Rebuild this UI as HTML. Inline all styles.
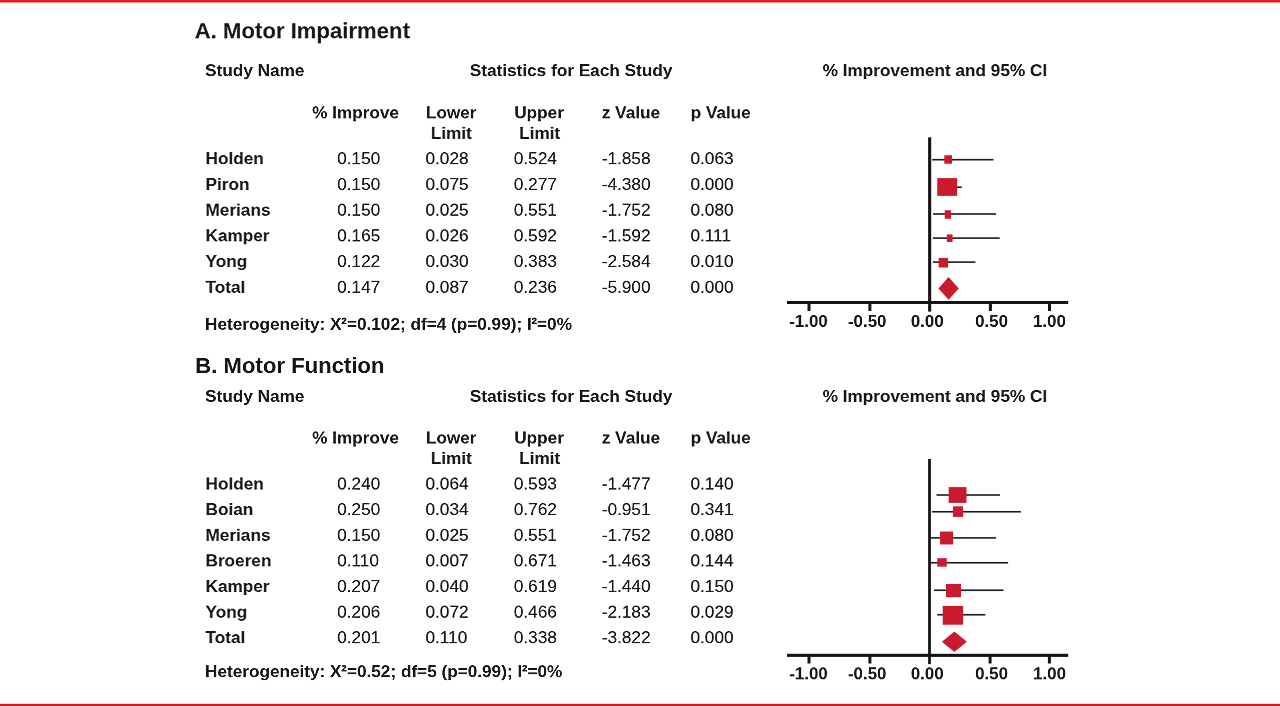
<!DOCTYPE html>
<html><head><meta charset="utf-8"><title>Forest plot</title>
<style>
html,body{margin:0;padding:0;background:#fff;}
body{width:1280px;height:706px;position:relative;overflow:hidden;font-family:"Liberation Sans",sans-serif;font-size:17.2px;color:#161415;}
.g{position:absolute;left:0;top:0;width:1280px;height:706px;}
.t{position:absolute;line-height:1;white-space:nowrap;color:#141213;-webkit-text-stroke:0.06px #141213;}
.b{font-weight:bold;-webkit-text-stroke:0;}
.sup{font-size:9.2px;position:relative;top:-5.8px;line-height:0;letter-spacing:0.2px;-webkit-text-stroke:0.3px #141213;}
.bar{position:absolute;left:0;width:1280px;background:#e41b23;}
svg.p{position:absolute;left:0;top:0;}
</style></head><body>
<svg width="0" height="0" style="position:absolute"><defs>
<filter id="f0" x="0" y="0" width="100%" height="100%" color-interpolation-filters="sRGB"><feConvolveMatrix order="4 4" kernelMatrix="0.0032 -0.0285 -0.0533 0.0054 -0.0320 0.2835 0.5293 -0.0533 -0.0171 0.1518 0.2835 -0.0285 0.0019 -0.0171 -0.0320 0.0032" divisor="1" edgeMode="none" preserveAlpha="false"/><feConvolveMatrix order="3 3" kernelMatrix="0 -0.25 0 -0.25 2.0 -0.25 0 -0.25 0" divisor="1" edgeMode="none" preserveAlpha="false"/></filter>
<filter id="f1" x="0" y="0" width="100%" height="100%" color-interpolation-filters="sRGB"><feConvolveMatrix order="4 4" kernelMatrix="0.0034 -0.0678 -0.0064 0.0005 -0.0415 0.8359 0.0788 -0.0059 -0.0108 0.2184 0.0206 -0.0015 0.0011 -0.0226 -0.0021 0.0002" divisor="1" edgeMode="none" preserveAlpha="false"/><feConvolveMatrix order="3 3" kernelMatrix="0 -0.25 0 -0.25 2.0 -0.25 0 -0.25 0" divisor="1" edgeMode="none" preserveAlpha="false"/></filter>
<filter id="f2" x="0" y="0" width="100%" height="100%" color-interpolation-filters="sRGB"><feConvolveMatrix order="4 4" kernelMatrix="0.0016 -0.0159 -0.0610 0.0049 -0.0203 0.1965 0.7520 -0.0610 -0.0053 0.0513 0.1965 -0.0159 0.0005 -0.0053 -0.0203 0.0016" divisor="1" edgeMode="none" preserveAlpha="false"/><feConvolveMatrix order="3 3" kernelMatrix="0 -0.25 0 -0.25 2.0 -0.25 0 -0.25 0" divisor="1" edgeMode="none" preserveAlpha="false"/></filter>
<filter id="f3" x="0" y="0" width="100%" height="100%" color-interpolation-filters="sRGB"><feConvolveMatrix order="4 4" kernelMatrix="0.0031 -0.0274 -0.0512 0.0051 -0.0381 0.3379 0.6309 -0.0635 -0.0100 0.0883 0.1648 -0.0166 0.0010 -0.0091 -0.0171 0.0017" divisor="1" edgeMode="none" preserveAlpha="false"/><feConvolveMatrix order="3 3" kernelMatrix="0 -0.25 0 -0.25 2.0 -0.25 0 -0.25 0" divisor="1" edgeMode="none" preserveAlpha="false"/></filter>
<filter id="f4" x="0" y="0" width="100%" height="100%" color-interpolation-filters="sRGB"><feConvolveMatrix order="4 4" kernelMatrix="0.0051 -0.0635 -0.0166 0.0017 -0.0512 0.6309 0.1648 -0.0171 -0.0274 0.3379 0.0883 -0.0091 0.0031 -0.0381 -0.0100 0.0010" divisor="1" edgeMode="none" preserveAlpha="false"/><feConvolveMatrix order="3 3" kernelMatrix="0 -0.25 0 -0.25 2.0 -0.25 0 -0.25 0" divisor="1" edgeMode="none" preserveAlpha="false"/></filter>
<filter id="f5" x="0" y="0" width="100%" height="100%" color-interpolation-filters="sRGB"><feConvolveMatrix order="4 4" kernelMatrix="0.0017 -0.0171 -0.0091 0.0010 -0.0166 0.1648 0.0883 -0.0100 -0.0635 0.6309 0.3379 -0.0381 0.0051 -0.0512 -0.0274 0.0031" divisor="1" edgeMode="none" preserveAlpha="false"/><feConvolveMatrix order="3 3" kernelMatrix="0 -0.25 0 -0.25 2.0 -0.25 0 -0.25 0" divisor="1" edgeMode="none" preserveAlpha="false"/></filter>
<filter id="f6" x="0" y="0" width="100%" height="100%" color-interpolation-filters="sRGB"><feConvolveMatrix order="4 4" kernelMatrix="0.0035 -0.0706 -0.0067 0.0005 -0.0348 0.7013 0.0661 -0.0050 -0.0186 0.3756 0.0354 -0.0027 0.0021 -0.0424 -0.0040 0.0003" divisor="1" edgeMode="none" preserveAlpha="false"/><feConvolveMatrix order="3 3" kernelMatrix="0 -0.25 0 -0.25 2.0 -0.25 0 -0.25 0" divisor="1" edgeMode="none" preserveAlpha="false"/></filter>
<filter id="f7" x="0" y="0" width="100%" height="100%" color-interpolation-filters="sRGB"><feConvolveMatrix order="4 4" kernelMatrix="0.0010 -0.0091 -0.0171 0.0017 -0.0100 0.0883 0.1648 -0.0166 -0.0381 0.3379 0.6309 -0.0635 0.0031 -0.0274 -0.0512 0.0051" divisor="1" edgeMode="none" preserveAlpha="false"/><feConvolveMatrix order="3 3" kernelMatrix="0 -0.25 0 -0.25 2.0 -0.25 0 -0.25 0" divisor="1" edgeMode="none" preserveAlpha="false"/></filter>
<filter id="f8" x="0" y="0" width="100%" height="100%" color-interpolation-filters="sRGB"><feConvolveMatrix order="4 4" kernelMatrix="0.0017 -0.0166 -0.0635 0.0051 -0.0171 0.1648 0.6309 -0.0512 -0.0091 0.0883 0.3379 -0.0274 0.0010 -0.0100 -0.0381 0.0031" divisor="1" edgeMode="none" preserveAlpha="false"/><feConvolveMatrix order="3 3" kernelMatrix="0 -0.25 0 -0.25 2.0 -0.25 0 -0.25 0" divisor="1" edgeMode="none" preserveAlpha="false"/></filter>
<filter id="f9" x="0" y="0" width="100%" height="100%" color-interpolation-filters="sRGB"><feConvolveMatrix order="4 4" kernelMatrix="0.0044 -0.0396 -0.0396 0.0044 -0.0542 0.4878 0.4878 -0.0542 -0.0142 0.1274 0.1274 -0.0142 0.0015 -0.0132 -0.0132 0.0015" divisor="1" edgeMode="none" preserveAlpha="false"/><feConvolveMatrix order="3 3" kernelMatrix="0 -0.25 0 -0.25 2.0 -0.25 0 -0.25 0" divisor="1" edgeMode="none" preserveAlpha="false"/></filter>
<filter id="f10" x="0" y="0" width="100%" height="100%" color-interpolation-filters="sRGB"><feConvolveMatrix order="4 4" kernelMatrix="0.0049 -0.0610 -0.0159 0.0016 -0.0610 0.7520 0.1965 -0.0203 -0.0159 0.1965 0.0513 -0.0053 0.0016 -0.0203 -0.0053 0.0005" divisor="1" edgeMode="none" preserveAlpha="false"/><feConvolveMatrix order="3 3" kernelMatrix="0 -0.25 0 -0.25 2.0 -0.25 0 -0.25 0" divisor="1" edgeMode="none" preserveAlpha="false"/></filter>
<filter id="f11" x="0" y="0" width="100%" height="100%" color-interpolation-filters="sRGB"><feConvolveMatrix order="4 4" kernelMatrix="0 0 0 0 -0.0625 0.5625 0.5625 -0.0625 0 0 0 0 0 0 0 0" divisor="1" edgeMode="none" preserveAlpha="false"/><feConvolveMatrix order="3 3" kernelMatrix="0 -0.25 0 -0.25 2.0 -0.25 0 -0.25 0" divisor="1" edgeMode="none" preserveAlpha="false"/></filter>
<filter id="f12" x="0" y="0" width="100%" height="100%" color-interpolation-filters="sRGB"><feConvolveMatrix order="4 4" kernelMatrix="0 0 0 0 -0.0703 0.8672 0.2266 -0.0234 0 0 0 0 0 0 0 0" divisor="1" edgeMode="none" preserveAlpha="false"/><feConvolveMatrix order="3 3" kernelMatrix="0 -0.25 0 -0.25 2.0 -0.25 0 -0.25 0" divisor="1" edgeMode="none" preserveAlpha="false"/></filter>
<filter id="f13" x="0" y="0" width="100%" height="100%" color-interpolation-filters="sRGB"><feConvolveMatrix order="4 4" kernelMatrix="0 0 0 0 -0.0234 0.2266 0.8672 -0.0703 0 0 0 0 0 0 0 0" divisor="1" edgeMode="none" preserveAlpha="false"/><feConvolveMatrix order="3 3" kernelMatrix="0 -0.25 0 -0.25 2.0 -0.25 0 -0.25 0" divisor="1" edgeMode="none" preserveAlpha="false"/></filter>
<filter id="f14" x="0" y="0" width="100%" height="100%" color-interpolation-filters="sRGB"><feConvolveMatrix order="4 4" kernelMatrix="0.0027 -0.0247 -0.0247 0.0027 -0.0244 0.2192 0.2192 -0.0244 -0.0455 0.4092 0.4092 -0.0455 0.0046 -0.0412 -0.0412 0.0046" divisor="1" edgeMode="none" preserveAlpha="false"/><feConvolveMatrix order="3 3" kernelMatrix="0 -0.25 0 -0.25 2.0 -0.25 0 -0.25 0" divisor="1" edgeMode="none" preserveAlpha="false"/></filter>
<filter id="f15" x="0" y="0" width="100%" height="100%" color-interpolation-filters="sRGB"><feConvolveMatrix order="4 4" kernelMatrix="0.0031 -0.0381 -0.0100 0.0010 -0.0274 0.3379 0.0883 -0.0091 -0.0512 0.6309 0.1648 -0.0171 0.0051 -0.0635 -0.0166 0.0017" divisor="1" edgeMode="none" preserveAlpha="false"/><feConvolveMatrix order="3 3" kernelMatrix="0 -0.25 0 -0.25 2.0 -0.25 0 -0.25 0" divisor="1" edgeMode="none" preserveAlpha="false"/></filter>
<filter id="f16" x="0" y="0" width="100%" height="100%" color-interpolation-filters="sRGB"><feConvolveMatrix order="4 4" kernelMatrix="0.0010 -0.0100 -0.0381 0.0031 -0.0091 0.0883 0.3379 -0.0274 -0.0171 0.1648 0.6309 -0.0512 0.0017 -0.0166 -0.0635 0.0051" divisor="1" edgeMode="none" preserveAlpha="false"/><feConvolveMatrix order="3 3" kernelMatrix="0 -0.25 0 -0.25 2.0 -0.25 0 -0.25 0" divisor="1" edgeMode="none" preserveAlpha="false"/></filter>
<filter id="f17" x="0" y="0" width="100%" height="100%" color-interpolation-filters="sRGB"><feConvolveMatrix order="4 4" kernelMatrix="0.0046 -0.0412 -0.0412 0.0046 -0.0455 0.4092 0.4092 -0.0455 -0.0244 0.2192 0.2192 -0.0244 0.0027 -0.0247 -0.0247 0.0027" divisor="1" edgeMode="none" preserveAlpha="false"/><feConvolveMatrix order="3 3" kernelMatrix="0 -0.25 0 -0.25 2.0 -0.25 0 -0.25 0" divisor="1" edgeMode="none" preserveAlpha="false"/></filter>
<filter id="f18" x="0" y="0" width="100%" height="100%" color-interpolation-filters="sRGB"><feConvolveMatrix order="4 4" kernelMatrix="0.0015 -0.0132 -0.0132 0.0015 -0.0142 0.1274 0.1274 -0.0142 -0.0542 0.4878 0.4878 -0.0542 0.0044 -0.0396 -0.0396 0.0044" divisor="1" edgeMode="none" preserveAlpha="false"/><feConvolveMatrix order="3 3" kernelMatrix="0 -0.25 0 -0.25 2.0 -0.25 0 -0.25 0" divisor="1" edgeMode="none" preserveAlpha="false"/></filter>
<filter id="f19" x="0" y="0" width="100%" height="100%" color-interpolation-filters="sRGB"><feConvolveMatrix order="4 4" kernelMatrix="0.0016 -0.0203 -0.0053 0.0005 -0.0159 0.1965 0.0513 -0.0053 -0.0610 0.7520 0.1965 -0.0203 0.0049 -0.0610 -0.0159 0.0016" divisor="1" edgeMode="none" preserveAlpha="false"/><feConvolveMatrix order="3 3" kernelMatrix="0 -0.25 0 -0.25 2.0 -0.25 0 -0.25 0" divisor="1" edgeMode="none" preserveAlpha="false"/></filter>
<filter id="f20" x="0" y="0" width="100%" height="100%" color-interpolation-filters="sRGB"><feConvolveMatrix order="4 4" kernelMatrix="0.0005 -0.0053 -0.0203 0.0016 -0.0053 0.0513 0.1965 -0.0159 -0.0203 0.1965 0.7520 -0.0610 0.0016 -0.0159 -0.0610 0.0049" divisor="1" edgeMode="none" preserveAlpha="false"/><feConvolveMatrix order="3 3" kernelMatrix="0 -0.25 0 -0.25 2.0 -0.25 0 -0.25 0" divisor="1" edgeMode="none" preserveAlpha="false"/></filter>
<filter id="f21" x="0" y="0" width="100%" height="100%" color-interpolation-filters="sRGB"><feConvolveMatrix order="4 4" kernelMatrix="0 -0.0234 0 0 0 0.2266 0 0 0 0.8672 0 0 0 -0.0703 0 0" divisor="1" edgeMode="none" preserveAlpha="false"/><feConvolveMatrix order="3 3" kernelMatrix="0 -0.25 0 -0.25 2.0 -0.25 0 -0.25 0" divisor="1" edgeMode="none" preserveAlpha="false"/></filter>
<filter id="f22" x="0" y="0" width="100%" height="100%" color-interpolation-filters="sRGB"><feConvolveMatrix order="4 4" kernelMatrix="0.0034 -0.0415 -0.0108 0.0011 -0.0678 0.8359 0.2184 -0.0226 -0.0064 0.0788 0.0206 -0.0021 0.0005 -0.0059 -0.0015 0.0002" divisor="1" edgeMode="none" preserveAlpha="false"/><feConvolveMatrix order="3 3" kernelMatrix="0 -0.25 0 -0.25 2.0 -0.25 0 -0.25 0" divisor="1" edgeMode="none" preserveAlpha="false"/></filter>
<filter id="f23" x="0" y="0" width="100%" height="100%" color-interpolation-filters="sRGB"><feConvolveMatrix order="4 4" kernelMatrix="0.0003 -0.0066 -0.0006 0 -0.0043 0.0875 0.0082 -0.0006 -0.0461 0.9290 0.0875 -0.0066 0.0023 -0.0461 -0.0043 0.0003" divisor="1" edgeMode="none" preserveAlpha="false"/><feConvolveMatrix order="3 3" kernelMatrix="0 -0.25 0 -0.25 2.0 -0.25 0 -0.25 0" divisor="1" edgeMode="none" preserveAlpha="false"/></filter>
<filter id="f24" x="0" y="0" width="100%" height="100%" color-interpolation-filters="sRGB"><feConvolveMatrix order="4 4" kernelMatrix="0.0002 -0.0015 -0.0059 0.0005 -0.0021 0.0206 0.0788 -0.0064 -0.0226 0.2184 0.8359 -0.0678 0.0011 -0.0108 -0.0415 0.0034" divisor="1" edgeMode="none" preserveAlpha="false"/><feConvolveMatrix order="3 3" kernelMatrix="0 -0.25 0 -0.25 2.0 -0.25 0 -0.25 0" divisor="1" edgeMode="none" preserveAlpha="false"/></filter>
<filter id="f25" x="0" y="0" width="100%" height="100%" color-interpolation-filters="sRGB"><feConvolveMatrix order="4 4" kernelMatrix="0.0003 -0.0027 -0.0050 0.0005 -0.0040 0.0354 0.0661 -0.0067 -0.0424 0.3756 0.7013 -0.0706 0.0021 -0.0186 -0.0348 0.0035" divisor="1" edgeMode="none" preserveAlpha="false"/><feConvolveMatrix order="3 3" kernelMatrix="0 -0.25 0 -0.25 2.0 -0.25 0 -0.25 0" divisor="1" edgeMode="none" preserveAlpha="false"/></filter>
<filter id="f26" x="0" y="0" width="100%" height="100%" color-interpolation-filters="sRGB"><feConvolveMatrix order="4 4" kernelMatrix="0.0044 -0.0542 -0.0142 0.0015 -0.0396 0.4878 0.1274 -0.0132 -0.0396 0.4878 0.1274 -0.0132 0.0044 -0.0542 -0.0142 0.0015" divisor="1" edgeMode="none" preserveAlpha="false"/><feConvolveMatrix order="3 3" kernelMatrix="0 -0.25 0 -0.25 2.0 -0.25 0 -0.25 0" divisor="1" edgeMode="none" preserveAlpha="false"/></filter>
<filter id="f27" x="0" y="0" width="100%" height="100%" color-interpolation-filters="sRGB"><feConvolveMatrix order="4 4" kernelMatrix="0.0005 -0.0050 -0.0027 0.0003 -0.0067 0.0661 0.0354 -0.0040 -0.0706 0.7013 0.3756 -0.0424 0.0035 -0.0348 -0.0186 0.0021" divisor="1" edgeMode="none" preserveAlpha="false"/><feConvolveMatrix order="3 3" kernelMatrix="0 -0.25 0 -0.25 2.0 -0.25 0 -0.25 0" divisor="1" edgeMode="none" preserveAlpha="false"/></filter>
<filter id="f28" x="0" y="0" width="100%" height="100%" color-interpolation-filters="sRGB"><feConvolveMatrix order="4 4" kernelMatrix="0.0030 -0.0602 -0.0057 0.0004 -0.0269 0.5422 0.0511 -0.0038 -0.0269 0.5422 0.0511 -0.0038 0.0030 -0.0602 -0.0057 0.0004" divisor="1" edgeMode="none" preserveAlpha="false"/><feConvolveMatrix order="3 3" kernelMatrix="0 -0.25 0 -0.25 2.0 -0.25 0 -0.25 0" divisor="1" edgeMode="none" preserveAlpha="false"/></filter>
<filter id="f29" x="0" y="0" width="100%" height="100%" color-interpolation-filters="sRGB"><feConvolveMatrix order="4 4" kernelMatrix="0.0015 -0.0142 -0.0542 0.0044 -0.0132 0.1274 0.4878 -0.0396 -0.0132 0.1274 0.4878 -0.0396 0.0015 -0.0142 -0.0542 0.0044" divisor="1" edgeMode="none" preserveAlpha="false"/><feConvolveMatrix order="3 3" kernelMatrix="0 -0.25 0 -0.25 2.0 -0.25 0 -0.25 0" divisor="1" edgeMode="none" preserveAlpha="false"/></filter>
<filter id="f30" x="0" y="0" width="100%" height="100%" color-interpolation-filters="sRGB"><feConvolveMatrix order="4 4" kernelMatrix="0.0027 -0.0244 -0.0455 0.0046 -0.0247 0.2192 0.4092 -0.0412 -0.0247 0.2192 0.4092 -0.0412 0.0027 -0.0244 -0.0455 0.0046" divisor="1" edgeMode="none" preserveAlpha="false"/><feConvolveMatrix order="3 3" kernelMatrix="0 -0.25 0 -0.25 2.0 -0.25 0 -0.25 0" divisor="1" edgeMode="none" preserveAlpha="false"/></filter>
<filter id="f31" x="0" y="0" width="100%" height="100%" color-interpolation-filters="sRGB"><feConvolveMatrix order="4 4" kernelMatrix="0.0039 -0.0352 -0.0352 0.0039 -0.0352 0.3164 0.3164 -0.0352 -0.0352 0.3164 0.3164 -0.0352 0.0039 -0.0352 -0.0352 0.0039" divisor="1" edgeMode="none" preserveAlpha="false"/><feConvolveMatrix order="3 3" kernelMatrix="0 -0.25 0 -0.25 2.0 -0.25 0 -0.25 0" divisor="1" edgeMode="none" preserveAlpha="false"/></filter>
<filter id="f32" x="0" y="0" width="100%" height="100%" color-interpolation-filters="sRGB"><feConvolveMatrix order="4 4" kernelMatrix="0.0030 -0.0269 -0.0269 0.0030 -0.0602 0.5422 0.5422 -0.0602 -0.0057 0.0511 0.0511 -0.0057 0.0004 -0.0038 -0.0038 0.0004" divisor="1" edgeMode="none" preserveAlpha="false"/><feConvolveMatrix order="3 3" kernelMatrix="0 -0.25 0 -0.25 2.0 -0.25 0 -0.25 0" divisor="1" edgeMode="none" preserveAlpha="false"/></filter>
<filter id="f33" x="0" y="0" width="100%" height="100%" color-interpolation-filters="sRGB"><feConvolveMatrix order="4 4" kernelMatrix="0.0011 -0.0108 -0.0415 0.0034 -0.0226 0.2184 0.8359 -0.0678 -0.0021 0.0206 0.0788 -0.0064 0.0002 -0.0015 -0.0059 0.0005" divisor="1" edgeMode="none" preserveAlpha="false"/><feConvolveMatrix order="3 3" kernelMatrix="0 -0.25 0 -0.25 2.0 -0.25 0 -0.25 0" divisor="1" edgeMode="none" preserveAlpha="false"/></filter>
<filter id="f34" x="0" y="0" width="100%" height="100%" color-interpolation-filters="sRGB"><feConvolveMatrix order="4 4" kernelMatrix="0 -0.0703 0 0 0 0.8672 0 0 0 0.2266 0 0 0 -0.0234 0 0" divisor="1" edgeMode="none" preserveAlpha="false"/><feConvolveMatrix order="3 3" kernelMatrix="0 -0.25 0 -0.25 2.0 -0.25 0 -0.25 0" divisor="1" edgeMode="none" preserveAlpha="false"/></filter>
<filter id="f35" x="0" y="0" width="100%" height="100%" color-interpolation-filters="sRGB"><feConvolveMatrix order="4 4" kernelMatrix="0 -0.0068 0 0 0 0.0908 0 0 0 0.9639 0 0 0 -0.0479 0 0" divisor="1" edgeMode="none" preserveAlpha="false"/><feConvolveMatrix order="3 3" kernelMatrix="0 -0.25 0 -0.25 2.0 -0.25 0 -0.25 0" divisor="1" edgeMode="none" preserveAlpha="false"/></filter>
<filter id="f36" x="0" y="0" width="100%" height="100%" color-interpolation-filters="sRGB"><feConvolveMatrix order="4 4" kernelMatrix="0.0005 -0.0059 -0.0015 0.0002 -0.0064 0.0788 0.0206 -0.0021 -0.0678 0.8359 0.2184 -0.0226 0.0034 -0.0415 -0.0108 0.0011" divisor="1" edgeMode="none" preserveAlpha="false"/><feConvolveMatrix order="3 3" kernelMatrix="0 -0.25 0 -0.25 2.0 -0.25 0 -0.25 0" divisor="1" edgeMode="none" preserveAlpha="false"/></filter>
<filter id="f37" x="0" y="0" width="100%" height="100%" color-interpolation-filters="sRGB"><feConvolveMatrix order="4 4" kernelMatrix="0.0054 -0.0533 -0.0285 0.0032 -0.0533 0.5293 0.2835 -0.0320 -0.0285 0.2835 0.1518 -0.0171 0.0032 -0.0320 -0.0171 0.0019" divisor="1" edgeMode="none" preserveAlpha="false"/><feConvolveMatrix order="3 3" kernelMatrix="0 -0.25 0 -0.25 2.0 -0.25 0 -0.25 0" divisor="1" edgeMode="none" preserveAlpha="false"/></filter>
<filter id="f38" x="0" y="0" width="100%" height="100%" color-interpolation-filters="sRGB"><feConvolveMatrix order="4 4" kernelMatrix="0 -0.0732 0 0 0 0.7275 0 0 0 0.3896 0 0 0 -0.0439 0 0" divisor="1" edgeMode="none" preserveAlpha="false"/><feConvolveMatrix order="3 3" kernelMatrix="0 -0.25 0 -0.25 2.0 -0.25 0 -0.25 0" divisor="1" edgeMode="none" preserveAlpha="false"/></filter>
</defs></svg>
<div class="bar" style="top:0;height:1px;background:#ee1c2a"></div>
<div class="bar" style="top:1px;height:1px;background:#c5171f"></div>
<div class="bar" style="top:2px;height:1px;background:#ea9a93"></div>
<div class="bar" style="top:3px;height:1px;background:#fff9f3"></div>
<div class="bar" style="top:703px;height:1px;background:#f8d4d4"></div>
<div class="bar" style="top:704px;height:1px;background:#c41c24"></div>
<div class="bar" style="top:705px;height:1px;background:#e01a22"></div>
<svg class="p" width="1280" height="706" viewBox="0 0 1280 706">
<rect x="787" y="301" width="281.2" height="3.00" fill="#161415"/>
<rect x="928.1" y="137.3" width="3.10" height="174.30" fill="#161415"/>
<rect x="807.50" y="303.5" width="3" height="7.50" fill="#161415"/>
<rect x="868.40" y="303.5" width="3" height="7.50" fill="#161415"/>
<rect x="988.90" y="303.5" width="3" height="7.50" fill="#161415"/>
<rect x="1048.00" y="303.5" width="3" height="7.50" fill="#161415"/>
<rect x="932.2" y="158.90" width="61.20" height="1.6" fill="#1c1a1b"/>
<rect x="944.30" y="155.25" width="7.8" height="8.5" fill="#c91b2d"/>
<rect x="940.0" y="186.40" width="21.80" height="1.6" fill="#1c1a1b"/>
<rect x="937.25" y="178.10" width="19.9" height="17.8" fill="#c91b2d"/>
<rect x="933.1" y="213.20" width="62.90" height="1.6" fill="#1c1a1b"/>
<rect x="944.75" y="210.25" width="6.3" height="8.5" fill="#c91b2d"/>
<rect x="932.9" y="237.30" width="66.80" height="1.6" fill="#1c1a1b"/>
<rect x="946.85" y="234.40" width="5.7" height="7.6" fill="#c91b2d"/>
<rect x="932.9" y="261.30" width="42.50" height="1.6" fill="#1c1a1b"/>
<rect x="938.70" y="257.90" width="9.4" height="9.6" fill="#c91b2d"/>
<polygon points="938.40,288.4 948.60,277.09999999999997 958.80,288.4 948.60,299.7" fill="#c91b2d"/>
<rect x="787" y="653.8" width="281.2" height="3.10" fill="#161415"/>
<rect x="928.1" y="459" width="2.80" height="205.10" fill="#161415"/>
<rect x="807.50" y="656.4" width="3" height="7.10" fill="#161415"/>
<rect x="868.40" y="656.4" width="3" height="7.10" fill="#161415"/>
<rect x="988.60" y="656.4" width="3" height="7.10" fill="#161415"/>
<rect x="1047.90" y="656.4" width="3" height="7.10" fill="#161415"/>
<rect x="936.5" y="494.20" width="63.50" height="1.6" fill="#1c1a1b"/>
<rect x="948.70" y="487.10" width="17.8" height="15.8" fill="#c91b2d"/>
<rect x="932.1" y="510.95" width="88.80" height="1.6" fill="#1c1a1b"/>
<rect x="952.90" y="506.30" width="10.2" height="10.6" fill="#c91b2d"/>
<rect x="929.0" y="537.10" width="67.00" height="1.6" fill="#1c1a1b"/>
<rect x="940.05" y="531.55" width="13.1" height="12.9" fill="#c91b2d"/>
<rect x="929.0" y="561.95" width="79.10" height="1.6" fill="#1c1a1b"/>
<rect x="937.25" y="558.15" width="9.5" height="8.5" fill="#c91b2d"/>
<rect x="934.0" y="589.45" width="69.50" height="1.6" fill="#1c1a1b"/>
<rect x="946.00" y="583.98" width="15.0" height="13.25" fill="#c91b2d"/>
<rect x="937.25" y="613.95" width="48.00" height="1.6" fill="#1c1a1b"/>
<rect x="942.73" y="605.88" width="20.35" height="18.85" fill="#c91b2d"/>
<polygon points="941.90,641.75 954.40,631.6 966.90,641.75 954.40,651.9" fill="#c91b2d"/>
</svg>
<div class="g" style="filter:url(#f0)">
<div class="t b" style="top:20px;font-size:22.15px;left:194px;">A. Motor Impairment</div>
<div class="t b" style="top:104px;left:690px;">p Value</div>
</div>
<div class="g" style="filter:url(#f1)">
<div class="t b" style="top:62px;left:205px;">Study Name</div>
</div>
<div class="g" style="filter:url(#f2)">
<div class="t b" style="top:62px;left:469px;">Statistics for Each Study</div>
<div class="t" style="top:150px;left:513px;">0.524</div>
<div class="t" style="top:150px;left:601px;">-1.858</div>
<div class="t" style="top:629px;left:513px;">0.338</div>
<div class="t" style="top:629px;left:601px;">-3.822</div>
</div>
<div class="g" style="filter:url(#f3)">
<div class="t b" style="top:62px;left:822px;">% Improvement and 95% CI</div>
</div>
<div class="g" style="filter:url(#f4)">
<div class="t b" style="top:104px;left:312px;">% Improve</div>
<div class="t b" style="top:104px;left:351px;width:200px;text-align:center;">Lower</div>
<div class="t" style="top:227px;left:337px;">0.165</div>
<div class="t" style="top:552px;left:337px;">0.110</div>
<div class="t b" style="top:666px;font-size:16.85px;left:975px;">0.50</div>
<div class="t b" style="top:666px;font-size:16.85px;left:1033px;">1.00</div>
</div>
<div class="g" style="filter:url(#f5)">
<div class="t b" style="top:124px;left:351px;width:200px;text-align:center;">Limit</div>
</div>
<div class="g" style="filter:url(#f6)">
<div class="t b" style="top:104px;left:439px;width:200px;text-align:center;">Upper</div>
</div>
<div class="g" style="filter:url(#f7)">
<div class="t b" style="top:124px;left:439px;width:200px;text-align:center;">Limit</div>
</div>
<div class="g" style="filter:url(#f8)">
<div class="t b" style="top:104px;left:601px;">z Value</div>
<div class="t" style="top:227px;left:513px;">0.592</div>
<div class="t" style="top:227px;left:601px;">-1.592</div>
<div class="t" style="top:552px;left:513px;">0.671</div>
<div class="t" style="top:552px;left:601px;">-1.463</div>
<div class="t b" style="top:666px;font-size:16.85px;left:910px;">0.00</div>
</div>
<div class="g" style="filter:url(#f9)">
<div class="t b" style="top:150px;left:205px;">Holden</div>
<div class="t" style="top:150px;left:425px;">0.028</div>
<div class="t" style="top:150px;left:690px;">0.063</div>
<div class="t b" style="top:629px;left:205px;">Total</div>
<div class="t" style="top:629px;left:425px;">0.110</div>
<div class="t" style="top:629px;left:690px;">0.000</div>
</div>
<div class="g" style="filter:url(#f10)">
<div class="t" style="top:150px;left:337px;">0.150</div>
<div class="t" style="top:629px;left:337px;">0.201</div>
</div>
<div class="g" style="filter:url(#f11)">
<div class="t b" style="top:176px;left:205px;">Piron</div>
<div class="t" style="top:176px;left:425px;">0.075</div>
<div class="t" style="top:176px;left:690px;">0.000</div>
<div class="t b" style="top:253px;left:205px;">Yong</div>
<div class="t" style="top:253px;left:425px;">0.030</div>
<div class="t" style="top:253px;left:690px;">0.010</div>
<div class="t b" style="top:578px;left:205px;">Kamper</div>
<div class="t" style="top:578px;left:425px;">0.040</div>
<div class="t" style="top:578px;left:690px;">0.150</div>
</div>
<div class="g" style="filter:url(#f12)">
<div class="t" style="top:176px;left:337px;">0.150</div>
<div class="t" style="top:253px;left:337px;">0.122</div>
<div class="t" style="top:578px;left:337px;">0.207</div>
</div>
<div class="g" style="filter:url(#f13)">
<div class="t" style="top:176px;left:513px;">0.277</div>
<div class="t" style="top:176px;left:601px;">-4.380</div>
<div class="t" style="top:253px;left:513px;">0.383</div>
<div class="t" style="top:253px;left:601px;">-2.584</div>
<div class="t" style="top:578px;left:513px;">0.619</div>
<div class="t" style="top:578px;left:601px;">-1.440</div>
</div>
<div class="g" style="filter:url(#f14)">
<div class="t b" style="top:201px;left:205px;">Merians</div>
<div class="t" style="top:201px;left:425px;">0.025</div>
<div class="t" style="top:201px;left:690px;">0.080</div>
<div class="t b" style="top:603px;left:205px;">Yong</div>
<div class="t" style="top:603px;left:425px;">0.072</div>
<div class="t" style="top:603px;left:690px;">0.029</div>
</div>
<div class="g" style="filter:url(#f15)">
<div class="t" style="top:201px;left:337px;">0.150</div>
<div class="t" style="top:603px;left:337px;">0.206</div>
</div>
<div class="g" style="filter:url(#f16)">
<div class="t" style="top:201px;left:513px;">0.551</div>
<div class="t" style="top:201px;left:601px;">-1.752</div>
<div class="t" style="top:603px;left:513px;">0.466</div>
<div class="t" style="top:603px;left:601px;">-2.183</div>
</div>
<div class="g" style="filter:url(#f17)">
<div class="t b" style="top:227px;left:205px;">Kamper</div>
<div class="t" style="top:227px;left:425px;">0.026</div>
<div class="t" style="top:227px;left:690px;">0.111</div>
<div class="t b" style="top:552px;left:205px;">Broeren</div>
<div class="t" style="top:552px;left:425px;">0.007</div>
<div class="t" style="top:552px;left:690px;">0.144</div>
</div>
<div class="g" style="filter:url(#f18)">
<div class="t b" style="top:278px;left:205px;">Total</div>
<div class="t" style="top:278px;left:425px;">0.087</div>
<div class="t" style="top:278px;left:690px;">0.000</div>
<div class="t b" style="top:526px;left:205px;">Merians</div>
<div class="t" style="top:526px;left:425px;">0.025</div>
<div class="t" style="top:526px;left:690px;">0.080</div>
</div>
<div class="g" style="filter:url(#f19)">
<div class="t" style="top:278px;left:337px;">0.147</div>
<div class="t" style="top:526px;left:337px;">0.150</div>
</div>
<div class="g" style="filter:url(#f20)">
<div class="t" style="top:278px;left:513px;">0.236</div>
<div class="t" style="top:278px;left:601px;">-5.900</div>
<div class="t" style="top:526px;left:513px;">0.551</div>
<div class="t" style="top:526px;left:601px;">-1.752</div>
</div>
<div class="g" style="filter:url(#f21)">
<div class="t b" style="top:315px;left:205px;">Heterogeneity: X<span class="sup">2</span>=0.102; df=4 (p=0.99); I<span class="sup">2</span>=0%</div>
</div>
<div class="g" style="filter:url(#f22)">
<div class="t b" style="top:355px;font-size:22.15px;left:195px;">B. Motor Function</div>
<div class="t" style="top:501px;left:337px;">0.250</div>
</div>
<div class="g" style="filter:url(#f23)">
<div class="t b" style="top:387px;left:205px;">Study Name</div>
<div class="t b" style="top:313px;font-size:16.85px;left:1033px;">1.00</div>
</div>
<div class="g" style="filter:url(#f24)">
<div class="t b" style="top:387px;left:469px;">Statistics for Each Study</div>
<div class="t b" style="top:313px;font-size:16.85px;left:910px;">0.00</div>
</div>
<div class="g" style="filter:url(#f25)">
<div class="t b" style="top:387px;left:822px;">% Improvement and 95% CI</div>
<div class="t b" style="top:449px;left:439px;width:200px;text-align:center;">Limit</div>
</div>
<div class="g" style="filter:url(#f26)">
<div class="t b" style="top:429px;left:312px;">% Improve</div>
<div class="t b" style="top:429px;left:351px;width:200px;text-align:center;">Lower</div>
<div class="t" style="top:475px;left:337px;">0.240</div>
</div>
<div class="g" style="filter:url(#f27)">
<div class="t b" style="top:449px;left:351px;width:200px;text-align:center;">Limit</div>
<div class="t b" style="top:313px;font-size:16.85px;left:789px;">-1.00</div>
</div>
<div class="g" style="filter:url(#f28)">
<div class="t b" style="top:429px;left:439px;width:200px;text-align:center;">Upper</div>
</div>
<div class="g" style="filter:url(#f29)">
<div class="t b" style="top:429px;left:601px;">z Value</div>
<div class="t" style="top:475px;left:513px;">0.593</div>
<div class="t" style="top:475px;left:601px;">-1.477</div>
</div>
<div class="g" style="filter:url(#f30)">
<div class="t b" style="top:429px;left:690px;">p Value</div>
</div>
<div class="g" style="filter:url(#f31)">
<div class="t b" style="top:475px;left:205px;">Holden</div>
<div class="t" style="top:475px;left:425px;">0.064</div>
<div class="t" style="top:475px;left:690px;">0.140</div>
</div>
<div class="g" style="filter:url(#f32)">
<div class="t b" style="top:501px;left:205px;">Boian</div>
<div class="t" style="top:501px;left:425px;">0.034</div>
<div class="t" style="top:501px;left:690px;">0.341</div>
</div>
<div class="g" style="filter:url(#f33)">
<div class="t" style="top:501px;left:513px;">0.762</div>
<div class="t" style="top:501px;left:601px;">-0.951</div>
</div>
<div class="g" style="filter:url(#f34)">
<div class="t b" style="top:663px;left:205px;">Heterogeneity: X<span class="sup">2</span>=0.52; df=5 (p=0.99); I<span class="sup">2</span>=0%</div>
</div>
<div class="g" style="filter:url(#f35)">
<div class="t b" style="top:313px;font-size:16.85px;left:848px;">-0.50</div>
</div>
<div class="g" style="filter:url(#f36)">
<div class="t b" style="top:313px;font-size:16.85px;left:975px;">0.50</div>
</div>
<div class="g" style="filter:url(#f37)">
<div class="t b" style="top:666px;font-size:16.85px;left:789px;">-1.00</div>
</div>
<div class="g" style="filter:url(#f38)">
<div class="t b" style="top:666px;font-size:16.85px;left:848px;">-0.50</div>
</div>
</body></html>
